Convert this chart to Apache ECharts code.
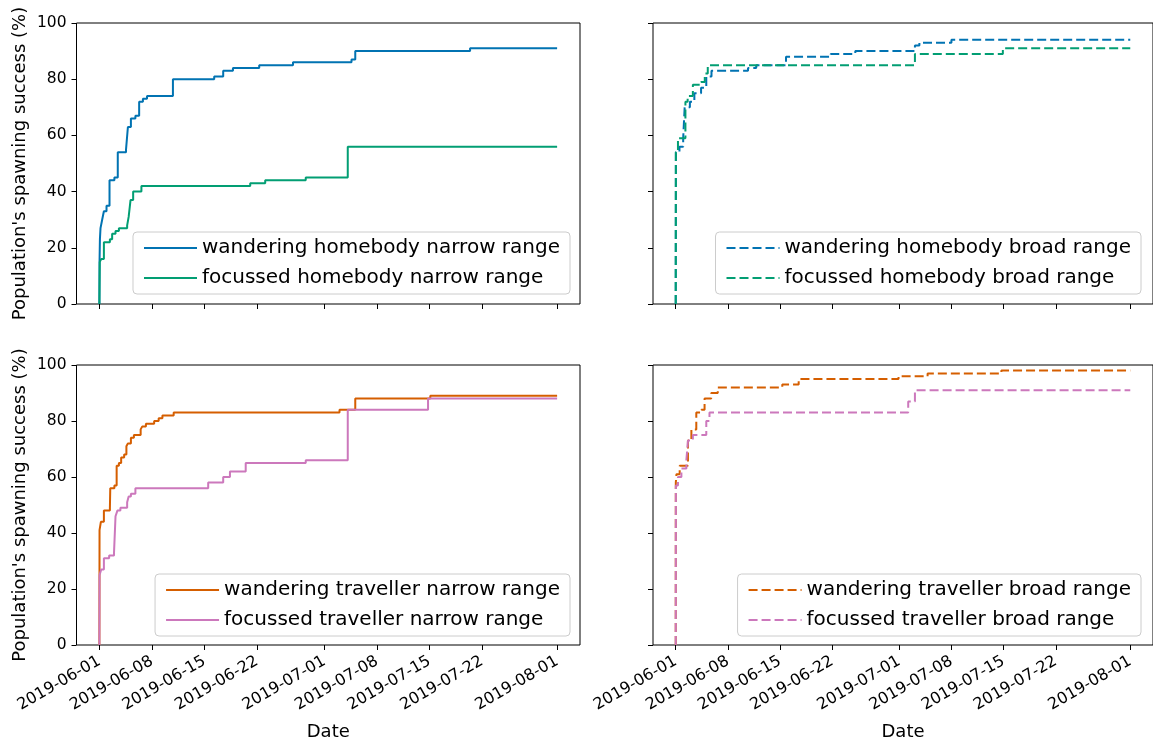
<!DOCTYPE html>
<html>
<head>
<meta charset="utf-8">
<script src="https://cdn.jsdelivr.net/npm/echarts@6/dist/echarts.min.js"></script>
<style>
  html, body { margin: 0; padding: 0; background: #fff; }
  #main { width: 1153px; height: 742px; }
</style>
</head>
<body>
<div id="main"></div>
<script>
// x values are days since 2019-06-01, y values are spawning success in %
const startDate = '2019-06-01';
const tickDates = ['2019-06-01', '2019-06-08', '2019-06-15', '2019-06-22', '2019-07-01',
  '2019-07-08', '2019-07-15', '2019-07-22', '2019-08-01'];
const yTicks = [0, 20, 40, 60, 80, 100];

const wanderHomebodyNarrow = [[0, 0], [0.02, 15], [0.07, 23], [0.15, 27], [0.37, 30], [0.6, 33], [0.95, 35],
  [1.35, 44], [2.0, 45], [2.45, 54], [3.55, 55], [3.8, 63], [4.2, 66], [4.8, 67], [5.3, 72], [5.8, 73],
  [6.35, 74], [9.8, 80], [15.3, 81], [16.5, 83], [17.8, 84], [21.3, 85], [25.8, 86], [33.6, 87],
  [34.1, 90], [49.4, 91], [61, 91]];
const focusHomebodyNarrow = [[0, 0], [0.05, 15], [0.25, 16], [0.6, 22], [1.4, 23], [1.7, 25], [2.15, 26],
  [2.6, 27], [3.7, 28], [3.9, 31], [4.15, 37], [4.5, 40], [5.6, 42], [20.1, 43], [22.1, 44], [27.5, 45],
  [33.1, 56], [61, 56]];
const wanderHomebodyBroad = [[0, 0], [0.02, 54], [0.5, 56], [1.0, 59], [1.2, 70], [1.9, 72], [2.5, 75],
  [3.4, 77], [4.1, 81], [4.8, 83], [9.7, 84], [10.8, 85], [14.8, 88], [20.8, 89], [24.1, 90], [32.1, 92],
  [32.7, 93], [37.0, 94], [61, 94]];
const focusHomebodyBroad = [[0, 0], [0.02, 54], [0.3, 59], [1.3, 72], [1.6, 74], [2.3, 78], [3.4, 79],
  [3.9, 82], [4.3, 85], [32.1, 89], [43.9, 91], [61, 91]];
const wanderTravellerNarrow = [[0, 0], [0.02, 41], [0.2, 44], [0.6, 48], [1.4, 49], [1.45, 56], [2.0, 57],
  [2.3, 64], [2.6, 65], [2.9, 67], [3.3, 68], [3.6, 71], [3.8, 72], [4.2, 74], [4.6, 75], [5.5, 77],
  [5.7, 78], [6.2, 79], [7.3, 80], [7.9, 81], [8.4, 82], [9.9, 83], [32.0, 84], [34.1, 88], [44.1, 89],
  [61, 89]];
const focusTravellerNarrow = [[0, 0], [0.02, 25], [0.25, 27], [0.6, 31], [1.3, 32], [1.95, 33], [2.15, 46],
  [2.4, 48], [2.8, 49], [3.7, 51], [3.9, 53], [4.2, 54], [4.8, 56], [14.5, 58], [16.5, 60], [17.4, 62],
  [19.5, 65], [27.5, 66], [33.1, 84], [43.8, 88], [61, 88]];
const wanderTravellerBroad = [[0, 0], [0.01, 58], [0.1, 61], [0.53, 64], [1.64, 73], [2.1, 77], [2.76, 83],
  [3.43, 84], [3.87, 88], [4.76, 90], [5.64, 92], [14.3, 93], [16.5, 95], [29.9, 96], [33.8, 97],
  [43.7, 98], [61, 98]];
const focusTravellerBroad = [[0, 0], [0.02, 57], [0.3, 60], [0.76, 63], [1.43, 66], [1.64, 73], [2.3, 75],
  [4.1, 80], [4.53, 83], [31.2, 87], [32.1, 91], [61, 91]];

const colors = { wander1: '#0173b2', focus1: '#029e73', wander2: '#d55e00', focus2: '#cc78bc' };

function toUTC(s) {
  const p = s.split('-').map(Number);
  return Date.UTC(p[0], p[1] - 1, p[2]);
}
const DAY = 86400000;
const t0 = toUTC(startDate);
const tickDays = tickDates.map(d => (toUTC(d) - t0) / DAY);
function dayLabel(v) {
  const d = new Date(t0 + Math.round(v) * DAY);
  const mm = String(d.getUTCMonth() + 1).padStart(2, '0');
  const dd = String(d.getUTCDate()).padStart(2, '0');
  return d.getUTCFullYear() + '-' + mm + '-' + dd;
}

const font = 'DejaVu Sans';
const xMin = -3.05, xMax = 64.05;

const grids = [
  { left: 76.5, top: 23, width: 503.5, height: 281 },
  { left: 653, top: 23, width: 503.5, height: 281 },
  { left: 76.5, top: 365, width: 503.5, height: 281 },
  { left: 653, top: 365, width: 503.5, height: 281 }
].map(g => Object.assign(g, { show: true, borderColor: '#000', borderWidth: 1, backgroundColor: 'transparent' }));

function xAxis(i) {
  const bottomRow = i >= 2;
  return {
    type: 'value', gridIndex: i, min: xMin, max: xMax,
    axisLine: { show: false, onZero: false },
    splitLine: { show: false },
    axisTick: { show: true, customValues: tickDays, length: 5, lineStyle: { color: '#000', width: 1 } },
    axisLabel: {
      show: bottomRow, customValues: tickDays, rotate: 30, margin: 15,
      fontSize: 16, color: '#000', fontFamily: font,
      formatter: dayLabel
    },
    name: bottomRow ? 'Date' : '',
    nameLocation: 'middle', nameGap: 78,
    nameTextStyle: { fontSize: 18, color: '#000', fontFamily: font }
  };
}

function yAxis(i) {
  const leftCol = i % 2 === 0;
  return {
    type: 'value', gridIndex: i, min: yTicks[0], max: yTicks[yTicks.length - 1], interval: 20,
    axisLine: { show: false, onZero: false },
    splitLine: { show: false },
    axisTick: { show: true, length: 5, lineStyle: { color: '#000', width: 1 } },
    axisLabel: { show: leftCol, margin: 10, fontSize: 15.5, color: '#000', fontFamily: font },
    name: leftCol ? "Population's spawning success (%)" : '',
    nameLocation: 'middle', nameGap: 47,
    nameTextStyle: { fontSize: 18, color: '#000', fontFamily: font }
  };
}

function line(name, data, idx, color, dashed) {
  return {
    name: name, type: 'line', xAxisIndex: idx, yAxisIndex: idx, data: data,
    step: 'end', symbol: 'none', showSymbol: false,
    lineStyle: { color: color, width: 2, type: dashed ? [9, 4] : 'solid' },
    itemStyle: { color: color },
    emphasis: { disabled: true }
  };
}

const legendBase = {
  orient: 'vertical', itemWidth: 53, itemHeight: 14, itemGap: 8,
  padding: [5, 10, 5, 10],
  backgroundColor: 'rgba(255,255,255,0.8)', borderColor: '#cccccc', borderWidth: 1, borderRadius: 4,
  itemStyle: { opacity: 0 },
  textStyle: { fontSize: 20, color: '#000', fontFamily: font, lineHeight: 22 },
  selectedMode: false
};

const chart = echarts.init(document.getElementById('main'), null, { renderer: 'canvas' });
chart.setOption({
  animation: false,
  backgroundColor: '#fff',
  textStyle: { fontFamily: font },
  grid: grids,
  xAxis: [0, 1, 2, 3].map(xAxis),
  yAxis: [0, 1, 2, 3].map(yAxis),
  legend: [
    Object.assign({}, legendBase, { data: ['wandering homebody narrow range', 'focussed homebody narrow range'], right: 583, bottom: 448 }),
    Object.assign({}, legendBase, { data: ['wandering homebody broad range', 'focussed homebody broad range'], right: 12, bottom: 448 }),
    Object.assign({}, legendBase, { data: ['wandering traveller narrow range', 'focussed traveller narrow range'], right: 583, bottom: 106 }),
    Object.assign({}, legendBase, { data: ['wandering traveller broad range', 'focussed traveller broad range'], right: 12, bottom: 106 })
  ],
  series: [
    line('wandering homebody narrow range', wanderHomebodyNarrow, 0, colors.wander1, false),
    line('focussed homebody narrow range', focusHomebodyNarrow, 0, colors.focus1, false),
    line('wandering homebody broad range', wanderHomebodyBroad, 1, colors.wander1, true),
    line('focussed homebody broad range', focusHomebodyBroad, 1, colors.focus1, true),
    line('wandering traveller narrow range', wanderTravellerNarrow, 2, colors.wander2, false),
    line('focussed traveller narrow range', focusTravellerNarrow, 2, colors.focus2, false),
    line('wandering traveller broad range', wanderTravellerBroad, 3, colors.wander2, true),
    line('focussed traveller broad range', focusTravellerBroad, 3, colors.focus2, true)
  ]
});
</script>
</body>
</html>
